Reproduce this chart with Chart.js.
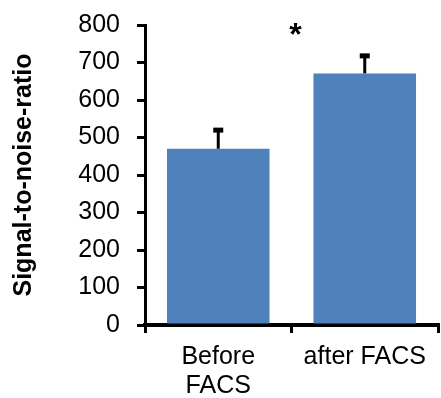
<!DOCTYPE html>
<html>
<head>
<meta charset="utf-8">
<script src="https://cdn.jsdelivr.net/npm/chart.js@4"></script>
<style>
  html, body { margin: 0; padding: 0; background: #fff; }
  #wrap { width: 441px; height: 398px; }
</style>
</head>
<body>
<div id="wrap"><canvas id="snrChart"></canvas></div>
<script>
const categories = [["Before", "FACS"], "after FACS"];
const snrValues = [470, 671];
const snrErrors = [55, 52];
const sigLabel = "*";
const sigLevel = 747; // where the asterisk baseline sits on the y scale

const FONT = "'Liberation Sans', Arial, sans-serif";

// upper error bars + significance star
const errorBars = {
    id: "errorBars",
    afterDatasetsDraw(chart) {
        const c = chart.ctx;
        const y = chart.scales.y;
        const x = chart.scales.x;
        const meta = chart.getDatasetMeta(0);
        c.save();
        c.strokeStyle = "#000";
        meta.data.forEach((bar, i) => {
            const top = y.getPixelForValue(snrValues[i] + snrErrors[i]);
            const base = y.getPixelForValue(snrValues[i]);
            c.lineWidth = 3;
            c.beginPath();
            c.moveTo(bar.x, base);
            c.lineTo(bar.x, top);
            c.stroke();
            c.lineWidth = 5;
            c.beginPath();
            c.moveTo(bar.x - 5, top + 2);
            c.lineTo(bar.x + 5, top + 2);
            c.stroke();
        });
        const midX = (x.getPixelForValue(0) + x.getPixelForValue(1)) / 2;
        c.fillStyle = "#000";
        c.font = "bold 32px " + FONT;
        c.textAlign = "center";
        c.textBaseline = "alphabetic";
        c.fillText(sigLabel, midX + 4, y.getPixelForValue(sigLevel));
        c.restore();
    }
};

const ctx = document.getElementById("snrChart").getContext("2d");
new Chart(ctx, {
    type: "bar",
    data: {
        labels: categories,
        datasets: [{
            data: snrValues,
            backgroundColor: "#4F81BD",
            borderWidth: 0,
            barPercentage: 0.7,
            categoryPercentage: 1.0,
        }],
    },
    options: {
        responsive: true,
        maintainAspectRatio: false,
        animation: false,
        layout: { padding: { top: 25, right: 3, left: 0, bottom: 0 } },
        plugins: {
            legend: { display: false },
            tooltip: { enabled: false },
        },
        scales: {
            x: {
                grid: { display: true, drawOnChartArea: false, drawTicks: true, tickLength: 8, color: "#000", lineWidth: 3, offset: true },
                border: { color: "#000", width: 4 },
                ticks: {
                    color: "#000",
                    padding: 10,
                    maxRotation: 0,
                    autoSkip: false,
                    font: { family: FONT, size: 25, lineHeight: 1.14 },
                },
                afterFit: (scale) => { scale.height = 73; },
            },
            y: {
                min: 0,
                max: 800,
                ticks: {
                    stepSize: 100,
                    color: "#000",
                    padding: 17,
                    font: { family: FONT, size: 25 },
                },
                grid: { drawOnChartArea: false, tickLength: 8, color: "#000", lineWidth: 3 },
                border: { color: "#000", width: 3 },
                title: {
                    display: true,
                    text: "Signal-to-noise-ratio",
                    color: "#000",
                    padding: { top: 9, bottom: 0 },
                    font: { family: FONT, size: 25, weight: "bold" },
                },
                afterFit: (scale) => {
                    scale.width = 145;
                    // tick padding gets added to the top overflow, drop it so layout padding rules
                    scale.paddingTop = 0;
                    scale.paddingBottom = 0;
                },
            },
        },
    },
    plugins: [errorBars],
});
</script>
</body>
</html>
